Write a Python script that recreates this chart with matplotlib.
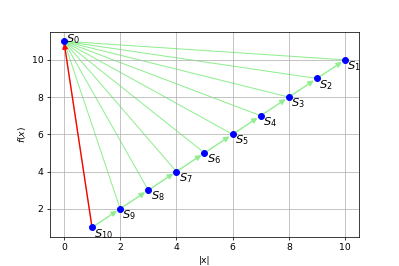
import numpy as np
import matplotlib
matplotlib.use("Agg")
import matplotlib.pyplot as plt

# points S0..S10
xs = [0, 10, 9, 8, 7, 6, 5, 4, 3, 2, 1]
fs = [11, 10, 9, 8, 7, 6, 5, 4, 3, 2, 1]
labels = ["$S_{%d}$" % i for i in range(len(xs))]

fig = plt.figure(figsize=(6, 4), dpi=66.5)
ax = fig.add_subplot(111)
ax.grid(True)

# lines from S0 to every other point
for i in range(1, len(xs)):
    ax.plot([xs[0], xs[i]], [fs[0], fs[i]], color="lightgreen", lw=1.1, zorder=1)

# arrows S_{k+1} -> S_k
for i in range(len(xs) - 1, 1, -1):
    ax.annotate("", xy=(xs[i - 1], fs[i - 1]), xytext=(xs[i], fs[i]),
                arrowprops=dict(arrowstyle="-|>", color="lightgreen", lw=1.5,
                                mutation_scale=12, shrinkA=0, shrinkB=4), zorder=1)

# red arrow back to S0
ax.annotate("", xy=(xs[0], fs[0]), xytext=(xs[-1], fs[-1]),
            arrowprops=dict(arrowstyle="-|>", color="red", lw=1.5,
                            mutation_scale=12, shrinkA=0, shrinkB=2), zorder=2)

ax.plot(xs, fs, "bo", ms=6.5, zorder=3)
for i, (x, f, lab) in enumerate(zip(xs, fs, labels)):
    dy = -0.05 if i == 0 else -0.5
    ax.text(x + 0.08, f + dy, lab, fontsize=12.5, ha="left")

ax.set_xlabel("|x|")
ax.set_ylabel("$f(x)$")
plt.savefig("out.png")
